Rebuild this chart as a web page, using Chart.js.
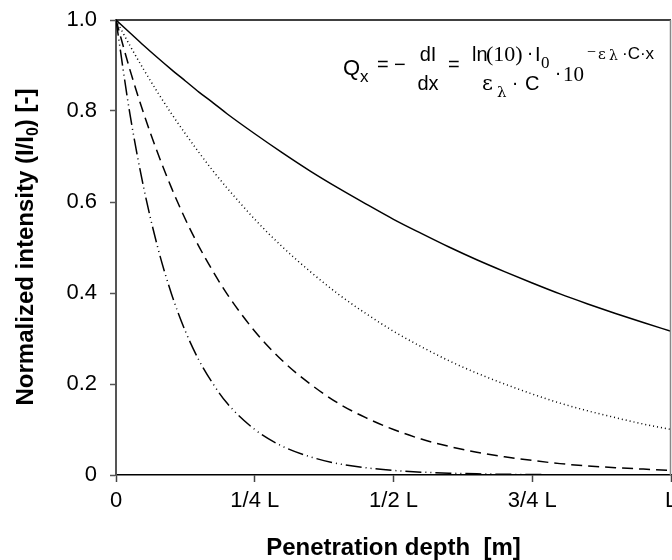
<!DOCTYPE html>
<html>
<head>
<meta charset="utf-8">
<script src="https://cdn.jsdelivr.net/npm/chart.js@4/dist/chart.umd.min.js"></script>
<style>
  html, body { margin: 0; padding: 0; background: #fff; }
  canvas { display: block; }
</style>
</head>
<body>
<canvas id="c" width="672" height="560"></canvas>
<script>
// ---- data ----
const xPositions = [0, 0.025, 0.05, 0.075, 0.1, 0.125, 0.15, 0.175, 0.2, 0.25, 0.3, 0.35, 0.4, 0.45, 0.5, 0.55, 0.6, 0.65, 0.7, 0.75, 0.8, 0.85, 0.9, 0.95, 1.0];
const solidSeries  = [1.000, 0.972, 0.944, 0.917, 0.891, 0.866, 0.841, 0.818, 0.794, 0.750, 0.708, 0.668, 0.631, 0.596, 0.562, 0.531, 0.501, 0.473, 0.447, 0.422, 0.398, 0.376, 0.355, 0.335, 0.316];
const dottedSeries = [1.000, 0.944, 0.891, 0.841, 0.794, 0.750, 0.708, 0.668, 0.631, 0.562, 0.501, 0.447, 0.398, 0.355, 0.316, 0.282, 0.251, 0.224, 0.200, 0.178, 0.158, 0.141, 0.126, 0.112, 0.100];
const dashedSeries = [1.000, 0.891, 0.794, 0.708, 0.631, 0.562, 0.501, 0.447, 0.398, 0.316, 0.251, 0.200, 0.158, 0.126, 0.100, 0.079, 0.063, 0.050, 0.040, 0.032, 0.025, 0.020, 0.016, 0.013, 0.010];
const dashDotSeries = [1.000, 0.794, 0.631, 0.501, 0.398, 0.316, 0.251, 0.200, 0.158, 0.100, 0.063, 0.040, 0.025, 0.016, 0.010, 0.0063, 0.0040, 0.0025, 0.0016, 0.0010, 0.0006, 0.0004, 0.0003, 0.0002, 0.0001];
const xTickLabels = ["0", "1/4 L", "1/2 L", "3/4 L", "L"];
const yTickLabels = ["0", "0.2", "0.4", "0.6", "0.8", "1.0"];
const xTitle = "Penetration depth  [m]";

const SANS = '"Liberation Sans", Arial, Helvetica, sans-serif';
const SERIF = '"Liberation Serif", "Times New Roman", serif';
const GREEK = '"DejaVu Serif", "Liberation Serif", serif';

function pts(ys) { return xPositions.map((x, i) => ({ x: x, y: ys[i] })); }

function mkSet(label, ys, dash) {
  return {
    label: label, data: pts(ys), borderColor: '#000', borderWidth: 1.5,
    borderDash: dash, pointRadius: 0, fill: false,
    cubicInterpolationMode: 'monotone'
  };
}

const decorPlugin = {
  id: 'decor',
  afterDraw(chart) {
    const ctx = chart.ctx;
    const a = chart.chartArea;
    ctx.save();
    // frame: top and right
    ctx.strokeStyle = '#000';
    ctx.lineWidth = 1.5;
    ctx.beginPath(); ctx.moveTo(a.left, a.top); ctx.lineTo(a.right, a.top); ctx.stroke();
    ctx.strokeStyle = '#888';
    ctx.beginPath(); ctx.moveTo(a.right - 0.5, a.top); ctx.lineTo(a.right - 0.5, a.bottom); ctx.stroke();

    // y axis title with subscript
    ctx.fillStyle = '#000';
    ctx.textBaseline = 'alphabetic';
    ctx.textAlign = 'left';
    const big = 'bold 24px ' + SANS, small = 'bold 16px ' + SANS;
    const parts = [["Normalized intensity (I/I", big, 0], ["0", small, 5], [") [-]", big, 0]];
    let total = 0;
    parts.forEach(p => { ctx.font = p[1]; total += ctx.measureText(p[0]).width; });
    ctx.translate(33, 247);
    ctx.rotate(-Math.PI / 2);
    let x = -total / 2;
    parts.forEach(p => { ctx.font = p[1]; ctx.fillText(p[0], x, p[2]); x += ctx.measureText(p[0]).width; });
    ctx.setTransform(1, 0, 0, 1, 0, 0);

    // equation
    function t(text, font, x, y, align) {
      ctx.font = font; ctx.textAlign = align || 'left'; ctx.fillText(text, x, y);
    }
    const s20 = '20px ' + SANS;
    t('Q', '22px ' + SANS, 343, 75);
    t('x', '17px ' + SANS, 360, 82);
    t('=', s20, 377, 71);
    t('\u2212', s20, 394, 71);
    t('dI', s20, 428, 61, 'center');
    t('dx', s20, 428, 90, 'center');
    t('=', s20, 448, 71);
    // numerator
    t('ln', s20, 472, 61);
    t('(10)', '22px ' + SERIF, 486, 61);
    t('\u00B7', s20, 530, 59, 'center');
    t('I', s20, 535, 61);
    t('0', '17px ' + SERIF, 541, 68);
    // denominator
    t('\u03B5', '21px ' + GREEK, 482, 90);
    t('\u03BB', '15px ' + GREEK, 497, 97);
    t('\u00B7', s20, 515, 89, 'center');
    t('C', s20, 525, 90);
    // power of ten
    t('\u00B7', s20, 558, 79, 'center');
    t('10', '21px ' + SERIF, 563, 81);
    t('\u2212', '16px ' + SERIF, 587, 57);
    t('\u03B5', '15px ' + GREEK, 598, 59);
    t('\u03BB', '14px ' + GREEK, 609, 60);
    t('\u00B7C\u00B7x', '17px ' + SANS, 622, 59);
    ctx.restore();
  }
};

new Chart(document.getElementById('c'), {
  type: 'line',
  data: {
    datasets: [
      mkSet('solid', solidSeries, []),
      mkSet('dotted', dottedSeries, [1, 3]),
      mkSet('dashed', dashedSeries, [11, 6]),
      mkSet('dash-dot-dot', dashDotSeries, [16, 4, 1, 4, 1, 4])
    ]
  },
  options: {
    responsive: false,
    animation: false,
    events: [],
    layout: { padding: { top: 20, right: 1, left: 0, bottom: 0 } },
    plugins: { legend: { display: false }, tooltip: { enabled: false } },
    scales: {
      x: {
        type: 'linear', min: 0, max: 1, position: 'bottom',
        ticks: {
          stepSize: 0.25, autoSkip: false, maxRotation: 0, minRotation: 0,
          callback: (v) => xTickLabels[Math.round(v * 4)],
          font: { family: SANS, size: 22 }, color: '#000', padding: 6
        },
        grid: { drawOnChartArea: false, drawTicks: true, tickLength: 7, color: '#444', tickWidth: 1.5 },
        border: { display: true, color: '#000', width: 1.5 },
        title: { display: true, text: xTitle, color: '#000', padding: 0,
                 font: { family: SANS, size: 24, weight: 'bold', lineHeight: 1 } },
        afterFit(s) { s.height = 85; s.paddingLeft = 0; s.paddingRight = 0; }
      },
      y: {
        type: 'linear', min: 0, max: 1,
        ticks: {
          stepSize: 0.2,
          callback: (v) => yTickLabels[Math.round(v * 5)],
          font: { family: SANS, size: 22 }, color: '#000', padding: 13
        },
        grid: { drawOnChartArea: false, drawTicks: true, tickLength: 6, color: '#555', tickWidth: 1.5 },
        border: { display: true, color: '#555', width: 2 },
        afterFit(s) { s.width = 116; s.paddingTop = 0; s.paddingBottom = 0; }
      }
    }
  },
  plugins: [decorPlugin]
});
</script>
</body>
</html>
